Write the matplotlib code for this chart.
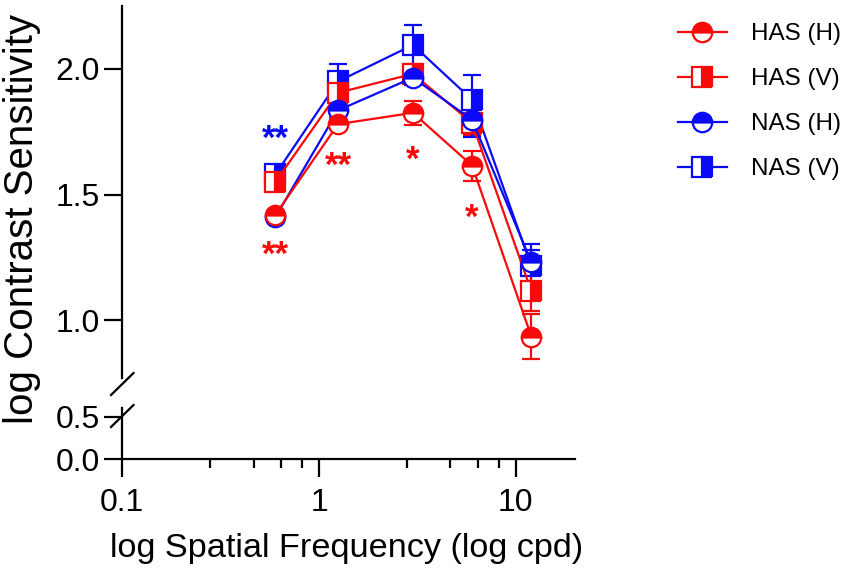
"""
HAS / NAS contrast sensitivity vs spatial frequency (broken y axis)
"""
import numpy as np
import matplotlib
matplotlib.use('Agg')
import matplotlib.pyplot as plt
import matplotlib.transforms as mtransforms
from matplotlib.lines import Line2D

plt.rcParams['font.family'] = ['Liberation Sans', 'DejaVu Sans']

# data
freq = [0.6, 1.25, 3, 6, 12]

has_h = [1.42, 1.78, 1.825, 1.615, 0.935]
has_h_err = [0.015, 0.02, 0.047, 0.06, 0.09]
has_v = [1.55, 1.905, 1.98, 1.785, 1.115]
has_v_err = [0.03, 0.03, 0.04, 0.05, 0.08]
nas_h = [1.41, 1.835, 1.965, 1.797, 1.23]
nas_h_err = [0.015, 0.03, 0.03, 0.07, 0.05]
nas_v = [1.58, 1.95, 2.095, 1.877, 1.215]
nas_v_err = [0.03, 0.07, 0.08, 0.10, 0.09]

# significance marks
star_x = [0.6, 0.6, 1.25, 3, 6]
star_y = [1.743, 1.281, 1.637, 1.66, 1.43]
star_txt = ['**', '**', '**', '*', '*']
star_grp = ['NAS', 'HAS', 'HAS', 'HAS', 'HAS']

RED = '#f80a0a'
BLUE = '#0a0af8'
W, H = 851, 571
LW = 1.6

fig = plt.figure(figsize=(W / 100, H / 100), dpi=100)

def px_box(left, top, right, bottom):
    return [left / W, 1 - bottom / H, (right - left) / W, (bottom - top) / H]

ax_top = fig.add_axes(px_box(122.3, 6, 575, 378))
ax_bot = fig.add_axes(px_box(122.3, 408, 575, 459.3), sharex=ax_top)

# plot order so overlaps look like the original
series = [
    (nas_v, nas_v_err, BLUE, 's', 'right', 'NAS (V)'),
    (has_v, has_v_err, RED, 's', 'right', 'HAS (V)'),
    (nas_h, nas_h_err, BLUE, 'o', 'top', 'NAS (H)'),
    (has_h, has_h_err, RED, 'o', 'top', 'HAS (H)'),
]
handles = {}
for vals, errs, col, mk, fs, lab in series:
    style = dict(color=col, lw=LW, marker=mk, ms=14, fillstyle=fs, mfc=col,
                 mfcalt='white', mec=col, mew=LW)
    ax_top.errorbar(freq, vals, yerr=errs, elinewidth=LW, capsize=6.5,
                    capthick=LW, **style)
    handles[lab] = Line2D([], [], **style)

star_off = mtransforms.offset_copy(ax_top.transData, fig=fig, x=0, y=-6,
                                   units='dots')
for x, y, t, g in zip(star_x, star_y, star_txt, star_grp):
    ax_top.text(x, y, t, color=BLUE if g == 'NAS' else RED, fontsize=25,
                fontweight='bold', ha='center', va='center',
                transform=star_off)

ax_top.set_xscale('log')
ax_top.set_xlim(0.1, 20)
ax_top.set_ylim(0.77, 2.25)
ax_top.set_yticks([1.0, 1.5, 2.0])
ax_bot.set_ylim(0, 0.6)
ax_bot.set_yticks([0.0, 0.5])

minor = [0.28, 0.465, 0.64, 0.82, 2.8, 4.65, 6.4, 8.2]
ax_bot.set_xticks([0.1, 1, 10])
ax_bot.set_xticklabels(['0.1', '1', '10'])
ax_bot.set_xticks(minor, minor=True)
ax_bot.xaxis.set_minor_formatter(plt.NullFormatter())

for ax in (ax_top, ax_bot):
    for s in ('top', 'right'):
        ax.spines[s].set_visible(False)
    for s in ('left', 'bottom'):
        ax.spines[s].set_linewidth(LW)
    ax.tick_params(axis='both', which='major', length=13, width=LW,
                   labelsize=23, direction='out')
    ax.tick_params(axis='y', pad=3)
    ax.tick_params(axis='x', pad=8)
    ax.tick_params(axis='x', which='minor', length=6.5, width=LW)
    ax.yaxis.set_major_formatter(plt.FormatStrFormatter('%.1f'))
    ax.patch.set_alpha(0)

ax_top.spines['bottom'].set_visible(False)
ax_top.tick_params(axis='x', which='both', bottom=False, labelbottom=False)

# break marks on the y axis
for y0, y1 in [(395, 373), (427, 405)]:
    fig.add_artist(Line2D([111 / W, 133.5 / W], [1 - y0 / H, 1 - y1 / H],
                          color='black', lw=LW, transform=fig.transFigure))

fig.text(347 / W, 1 - 548 / H, 'log Spatial Frequency (log cpd)',
         fontsize=24.7, ha='center', va='center')
fig.text(22 / W, 1 - 219 / H, 'log Contrast Sensitivity', fontsize=29,
         ha='center', va='center', rotation=90)

order = ['HAS (H)', 'HAS (V)', 'NAS (H)', 'NAS (V)']
leg = fig.legend([handles[k] for k in order], order, loc='upper left',
                 bbox_to_anchor=(678 / W, 1 - 23 / H), frameon=False,
                 fontsize=17.5, handlelength=2.0, handletextpad=1.0,
                 labelspacing=0.95, borderaxespad=0, borderpad=0)

plt.savefig('out.png', dpi=100)
